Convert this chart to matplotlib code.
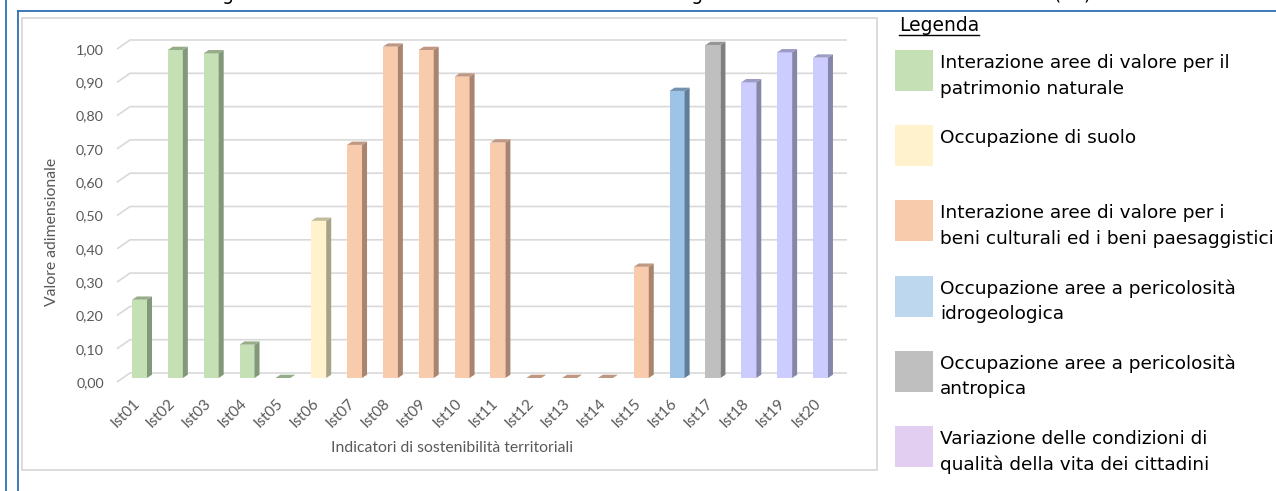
import numpy as np
import matplotlib
matplotlib.use("Agg")
import matplotlib.pyplot as plt
from matplotlib.patches import Polygon, Rectangle
from matplotlib.lines import Line2D
import matplotlib.transforms as mtransforms

# ---------------- data ----------------
categories = ["Ist01", "Ist02", "Ist03", "Ist04", "Ist05", "Ist06", "Ist07", "Ist08", "Ist09", "Ist10",
              "Ist11", "Ist12", "Ist13", "Ist14", "Ist15", "Ist16", "Ist17", "Ist18", "Ist19", "Ist20"]
values = [0.235, 0.985, 0.975, 0.10, 0.0, 0.472, 0.70, 0.995, 0.985, 0.905,
          0.707, 0.0, 0.0, 0.0, 0.334, 0.862, 1.00, 0.888, 0.978, 0.962]
groups = [0, 0, 0, 0, 0, 1, 2, 2, 2, 2, 2, 2, 2, 2, 2, 3, 4, 5, 5, 5]
yticks = [0.0, 0.1, 0.2, 0.3, 0.4, 0.5, 0.6, 0.7, 0.8, 0.9, 1.0]
ytick_labels = ["0,00", "0,10", "0,20", "0,30", "0,40", "0,50", "0,60", "0,70", "0,80", "0,90", "1,00"]
legend_labels = [
    "Interazione aree di valore per il\npatrimonio naturale",
    "Occupazione di suolo",
    "Interazione aree di valore per i\nbeni culturali ed i beni paesaggistici",
    "Occupazione aree a pericolosità\nidrogeologica",
    "Occupazione aree a pericolosità\nantropica",
    "Variazione delle condizioni di\nqualità della vita dei cittadini",
]
legend_title = "Legenda"
xlabel = "Indicatori di sostenibilità territoriali"
ylabel = "Valore adimensionale"
title = "Istogramma – Valutazione dei valori standardizzati degli indicatori di sostenibilità territoriali (Ist)"

# ---------------- styles ----------------
face_colors = ["#C5E0B4", "#FFF2CC", "#F8CBAD", "#9DC3E6", "#BFBFBF", "#CCCCFF"]
side_colors = ["#82987A", "#A8A286", "#A9846E", "#607E99", "#7F7F7F", "#8686AA"]
top_colors = ["#97AD8A", "#C2BB9A", "#C09780", "#7392AF", "#959595", "#9C9CC4"]
legend_colors = ["#C5E0B4", "#FFF2CC", "#F8CBAD", "#BDD7EE", "#BFBFBF", "#E2CEF0"]
blue = "#2E70B4"
grid_col = "#D9D9D9"
txt_gray = "#595959"

W, H = 1276, 491
fig = plt.figure(figsize=(W / 100, H / 100), dpi=100)
fig.patch.set_facecolor("white")

# overlay in pixel coordinates for frame / legend
ov = fig.add_axes([0, 0, 1, 1], zorder=0)
ov.set_xlim(0, W)
ov.set_ylim(H, 0)
ov.axis("off")

# blue document frame lines
ov.add_line(Line2D([6, 6], [0, H], color=blue, lw=1.3))
ov.add_line(Line2D([18, 18], [11, H], color=blue, lw=1.3))
ov.add_line(Line2D([18, W], [11, 11], color=blue, lw=1.3))
# title, cut off at the top edge as in the reference
ov.text(640, -0.5, title, ha="center", va="baseline", fontsize=13.5,
        family="DejaVu Sans", color="black")

# chart frame
ov.add_patch(Rectangle((22, 18), 855, 452, fill=False, ec=grid_col, lw=1.3))

# legend
ov.text(899, 31, legend_title, fontsize=13.5, family="DejaVu Sans", color="black",
        ha="left", va="baseline")
fig.canvas.draw()
r = fig.canvas.get_renderer()
bb = ov.texts[-1].get_window_extent(r)
ov.add_line(Line2D([899, 899 + bb.width], [34.5, 34.5], color="black", lw=1.0))

sw_top0, sw_step = 50, 75.2
for k, (lab, col) in enumerate(zip(legend_labels, legend_colors)):
    top = sw_top0 + k * sw_step
    ov.add_patch(Rectangle((895, top), 38, 41, color=col, lw=0))
    for j, line in enumerate(lab.split("\n")):
        ov.text(940, top + 18 + j * 25.5, line, fontsize=13.3, family="DejaVu Sans",
                color="black", ha="left", va="baseline")

# ---------------- main chart ----------------
px0 = 139.5      # pixel x of first bar centre
pstep = 35.84    # pixels per category
py0 = 378.0      # pixel y of value 0 (bar front)
pscale = 333.0   # pixels per unit value
ax_l, ax_r, ax_t, ax_b = 117, 850, 30, 395
ax = fig.add_axes([ax_l / W, (H - ax_b) / H, (ax_r - ax_l) / W, (ax_b - ax_t) / H], zorder=1)
ax.set_facecolor("none")
ax.set_xlim((ax_l - px0) / pstep, (ax_r - px0) / pstep)
ax.set_ylim((py0 - ax_b) / pscale, (py0 - ax_t) / pscale)
for s in ax.spines.values():
    s.set_visible(False)

# 3D-looking gridlines (back wall + floor diagonal)
x_front = ax.get_xlim()[0]
x_back = (130 - px0) / pstep
x_end = (847 - px0) / pstep
dy_front = -4 / pscale
dy_back = 5 / pscale
for v in yticks:
    ax.plot([x_front, x_back, x_end], [v + dy_front, v + dy_back, v + dy_back],
            color=grid_col, lw=1.2, zorder=1, solid_capstyle="butt", clip_on=False)

x = np.arange(len(categories))
w = 15 / pstep
ddx = 5 / pstep
ddy = 3.3 / pscale
fc = [face_colors[g] for g in groups]
ax.bar(x, values, width=w, color=fc, lw=0, zorder=3)
for xi, v, g in zip(x, values, groups):
    side = Polygon([(xi + w / 2, 0), (xi + w / 2 + ddx, ddy), (xi + w / 2 + ddx, v + ddy), (xi + w / 2, v)],
                   closed=True, color=side_colors[g], lw=0, zorder=3)
    topp = Polygon([(xi - w / 2, v), (xi + w / 2, v), (xi + w / 2 + ddx, v + ddy), (xi - w / 2 + ddx, v + ddy)],
                   closed=True, color=top_colors[g], lw=0, zorder=3)
    ax.add_patch(side)
    ax.add_patch(topp)

# ticks
ax.set_yticks(yticks)
ax.set_yticklabels(ytick_labels, fontsize=10.3, family="Lato", color=txt_gray)
ax.tick_params(axis="y", length=0, pad=9.5)
offy = mtransforms.ScaledTranslation(0, -4 / 100, fig.dpi_scale_trans)
for lab in ax.get_yticklabels():
    lab.set_transform(lab.get_transform() + offy)

ax.set_xticks(x)
ax.set_xticklabels(categories, rotation=45, ha="right", va="top", rotation_mode="anchor",
                   fontsize=11, family="Lato", color=txt_gray)
ax.tick_params(axis="x", length=0, pad=0)
offx = mtransforms.ScaledTranslation(-7 / 100, -1 / 100, fig.dpi_scale_trans)
for lab in ax.get_xticklabels():
    lab.set_transform(lab.get_transform() + offx)

# axis titles (pixel placement via overlay)
ov.text(452, 448, xlabel, ha="center", va="center", fontsize=11.3, family="Lato", color=txt_gray)
ov.text(52, 232, ylabel, ha="center", va="center", rotation=90, fontsize=11.3, family="Lato", color=txt_gray)

fig.savefig("out.png", dpi=100)
